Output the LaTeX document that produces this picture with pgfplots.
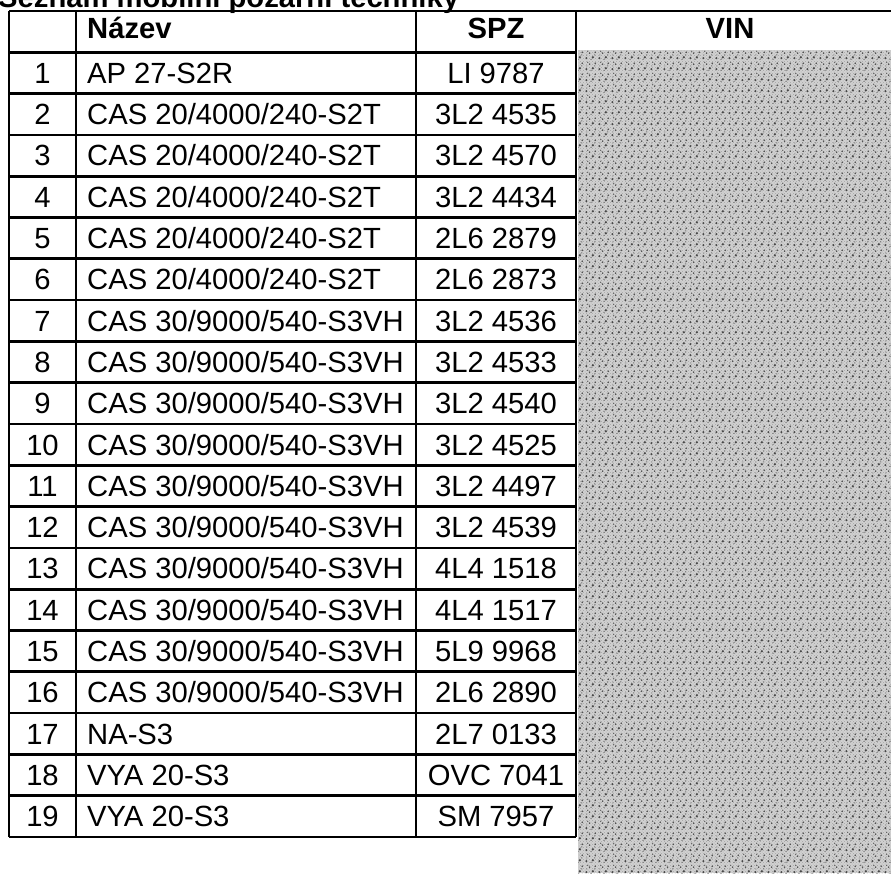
\documentclass[border=0pt]{standalone}
\usepackage{pgfplots}
\pgfplotsset{compat=1.18}
\usepackage{pgfplotstable}
\usepackage{fontspec}
\setmainfont{Liberation Sans}
\usetikzlibrary{patterns}
\pgfdeclarepatternformonly{speckle}{\pgfpointorigin}{\pgfpoint{13pt}{11pt}}{\pgfpoint{13pt}{11pt}}{%
  \pgfpathcircle{\pgfpoint{1.5pt}{2pt}}{1.2pt}
  \pgfpathcircle{\pgfpoint{5pt}{7.5pt}}{0.9pt}
  \pgfpathcircle{\pgfpoint{8.5pt}{3pt}}{1.4pt}
  \pgfpathcircle{\pgfpoint{11pt}{8.5pt}}{1.0pt}
  \pgfpathcircle{\pgfpoint{3pt}{9.5pt}}{0.7pt}
  \pgfpathcircle{\pgfpoint{6.5pt}{0.8pt}}{0.6pt}
  \pgfpathcircle{\pgfpoint{10.5pt}{5.5pt}}{0.6pt}
  \pgfpathcircle{\pgfpoint{2pt}{5.5pt}}{0.5pt}
  \pgfusepath{fill}
}
\pgfplotstableread[col sep=comma]{
i,num,name,spz
1,1,AP 27-S2R,LI 9787
2,2,CAS 20/4000/240-S2T,3L2 4535
3,3,CAS 20/4000/240-S2T,3L2 4570
4,4,CAS 20/4000/240-S2T,3L2 4434
5,5,CAS 20/4000/240-S2T,2L6 2879
6,6,CAS 20/4000/240-S2T,2L6 2873
7,7,CAS 30/9000/540-S3VH,3L2 4536
8,8,CAS 30/9000/540-S3VH,3L2 4533
9,9,CAS 30/9000/540-S3VH,3L2 4540
10,10,CAS 30/9000/540-S3VH,3L2 4525
11,11,CAS 30/9000/540-S3VH,3L2 4497
12,12,CAS 30/9000/540-S3VH,3L2 4539
13,13,CAS 30/9000/540-S3VH,4L4 1518
14,14,CAS 30/9000/540-S3VH,4L4 1517
15,15,CAS 30/9000/540-S3VH,5L9 9968
16,16,CAS 30/9000/540-S3VH,2L6 2890
17,17,NA-S3,2L7 0133
18,18,VYA 20-S3,OVC 7041
19,19,VYA 20-S3,SM 7957
}\fleet
\begin{document}
\begin{tikzpicture}
\begin{axis}[
  width=891pt, height=873pt, scale only axis,
  xmin=0, xmax=891, ymin=0, ymax=873, y dir=reverse,
  axis lines=none, clip=true,
  every node near coord/.append style={inner sep=0pt, font=\fontsize{29.2}{35}\selectfont, text=black},
]
% VIN noise area
\addplot[fill=black!18, draw=none] coordinates {(578,50) (891,50) (891,873) (578,873) (578,50)} -- cycle;
\addplot[pattern=crosshatch dots, pattern color=black!35, draw=none] coordinates {(578,50) (891,50) (891,873) (578,873) (578,50)} -- cycle;
\addplot[pattern=speckle, pattern color=black!72, draw=none] coordinates {(578,50) (891,50) (891,873) (578,873) (578,50)} -- cycle;
% table rules
\pgfplotsinvokeforeach{0,...,20}{
  \draw[line width=2.7pt] (axis cs:9,{11+41.3*#1}) -- (axis cs:576,{11+41.3*#1});
}
\draw[line width=2.7pt] (axis cs:576,11) -- (axis cs:891,11);
\pgfplotsinvokeforeach{9,76,416,576}{
  \draw[line width=2.7pt] (axis cs:#1,11) -- (axis cs:#1,837);
}
% title and header
\node[anchor=base west, inner sep=0pt, font=\fontsize{29.2}{35}\selectfont\bfseries] at (axis cs:-2,7) {Seznam mobilní požární techniky};
\node[anchor=base west, inner sep=0pt, font=\fontsize{29.2}{35}\selectfont\bfseries] at (axis cs:87,38) {Název};
\node[anchor=base, inner sep=0pt, font=\fontsize{29.2}{35}\selectfont\bfseries] at (axis cs:496,38) {SPZ};
\node[anchor=base, inner sep=0pt, font=\fontsize{29.2}{35}\selectfont\bfseries] at (axis cs:730,38) {VIN};
% data
\addplot[draw=none, nodes near coords, point meta=explicit symbolic,
  every node near coord/.append style={anchor=base}]
  table[x expr=42.5, y expr={11+41.3*(\thisrow{i}+0.5)+10.4}, meta=num] {\fleet};
\addplot[draw=none, nodes near coords, point meta=explicit symbolic,
  every node near coord/.append style={anchor=base west}]
  table[x expr=87, y expr={11+41.3*(\thisrow{i}+0.5)+10.4}, meta=name] {\fleet};
\addplot[draw=none, nodes near coords, point meta=explicit symbolic,
  every node near coord/.append style={anchor=base}]
  table[x expr=496, y expr={11+41.3*(\thisrow{i}+0.5)+10.4}, meta=spz] {\fleet};
\end{axis}
\pgfresetboundingbox
\useasboundingbox (current axis.south west) rectangle (current axis.north east);
\end{tikzpicture}
\end{document}
